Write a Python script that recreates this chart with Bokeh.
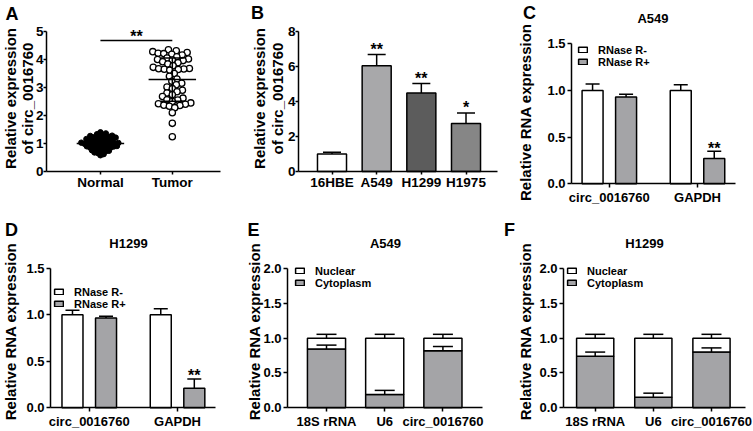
import numpy as np
from bokeh.plotting import figure
from bokeh.models import (Range1d, FixedTicker, PrintfTickFormatter, Label, Legend, LegendItem,
                          Whisker, TeeHead, ColumnDataSource)
from bokeh.layouts import column, row
from bokeh.embed import file_html
from bokeh.resources import INLINE
from bokeh.core.properties import value

FONT = "Liberation Sans"

# ---------------- data ----------------
# Panel A
groups_A = ["Normal", "Tumor"]
normal_expr = [1.40, 1.36, 1.33, 1.30, 1.28, 1.27, 1.25, 1.24, 1.22, 1.21, 1.20, 1.19, 1.18,
               1.16, 1.15, 1.14, 1.12, 1.10, 1.09, 1.08, 1.06, 1.05, 1.04, 1.03, 1.02, 1.01,
               1.00, 0.99, 0.98, 0.97, 0.96, 0.95, 0.94, 0.92, 0.91, 0.90, 0.89, 0.88, 0.86,
               0.85, 0.84, 0.82, 0.80, 0.78, 0.76, 0.74, 0.72, 0.70, 0.68, 0.66, 0.62, 0.58]
tumor_expr = [4.35, 4.31, 4.28, 4.25, 4.22, 4.21, 4.19, 4.16, 4.10, 4.05, 4.02, 4.00, 3.98,
              3.96, 3.92, 3.88, 3.84, 3.78, 3.72, 3.68, 3.67, 3.66, 3.65, 3.64, 3.62, 3.50,
              3.40, 3.30, 3.22, 3.15, 3.10, 3.02, 2.96, 2.90, 2.85, 2.80, 2.74, 2.68, 2.62,
              2.56, 2.55, 2.50, 2.45, 2.42, 2.40, 2.37, 2.36, 2.33, 2.28, 2.10, 1.72, 1.24]
sig_A = "**"

# Panel B
cells_B = ["16HBE", "A549", "H1299", "H1975"]
mean_B = [1.00, 6.05, 4.48, 2.75]
sd_B = [0.10, 0.63, 0.55, 0.60]
sig_B = ["", "**", "**", "*"]

# Panels C, D
genes_CD = ["circ_0016760", "GAPDH"]
rnase_series = ["RNase R-", "RNase R+"]
C_minus, C_minus_sd = [1.00, 1.00], [0.07, 0.06]
C_plus, C_plus_sd = [0.93, 0.27], [0.03, 0.08]
C_sig = ["", "**"]
D_minus, D_minus_sd = [1.00, 1.00], [0.05, 0.065]
D_plus, D_plus_sd = [0.965, 0.21], [0.02, 0.10]
D_sig = ["", "**"]

# Panels E, F
genes_EF = ["18S rRNA", "U6", "circ_0016760"]
fraction_series = ["Nuclear", "Cytoplasm"]
E_cyto, E_cyto_sd = [0.845, 0.19, 0.82], [0.055, 0.06, 0.06]
E_nuc, E_nuc_sd = [0.155, 0.81, 0.18], [0.055, 0.055, 0.055]
F_cyto, F_cyto_sd = [0.74, 0.15, 0.80], [0.06, 0.06, 0.06]
F_nuc, F_nuc_sd = [0.26, 0.85, 0.20], [0.055, 0.055, 0.055]

# ---------------- styles / layout ----------------
GRAY = "#a4a4a7"
B_COLORS = ["#ffffff", "#a8a8aa", "#5c5c5c", "#868686"]
LW = 1.5
COLS = [(0, 244), (244, 500), (500, 753)]
ROWS = [(0, 212), (212, 431)]
CANVAS = {}


def make_panel(name, col, rw, xdata, xpx, ydata, ypx):
    """Frame covers the whole canvas; axes are pinned at the data origin."""
    cx0, cx1 = COLS[col]
    cy0, cy1 = ROWS[rw]
    kx = (xpx[1] - xpx[0]) / (xdata[1] - xdata[0])
    ky = (ypx[0] - ypx[1]) / (ydata[1] - ydata[0])
    xs = xdata[0] - (xpx[0] - cx0) / kx
    xe = xdata[1] + (cx1 - xpx[1]) / kx
    ys = ydata[0] - (cy1 - ypx[0]) / ky
    ye = ydata[1] + (ypx[1] - cy0) / ky
    p = figure(width=cx1 - cx0, height=cy1 - cy0, x_range=Range1d(xs, xe),
               y_range=Range1d(ys, ye), min_border=0, title=None,
               output_backend="svg", toolbar_location=None, tools="")
    p.outline_line_color = None
    p.grid.visible = False
    p.background_fill_color = "white"
    p.border_fill_color = "white"
    p.xaxis.fixed_location = ydata[0]
    p.xaxis.bounds = tuple(xdata)
    p.yaxis.fixed_location = xdata[0]
    p.yaxis.bounds = tuple(ydata)
    CANVAS[name] = (cx0, cy1)
    return p


def style_axes(p, xlabels, yticks, yfmt, xsize, ysize, tick_out=4, standoff=2):
    for ax in list(p.xaxis) + list(p.yaxis):
        ax.axis_line_color = "black"
        ax.axis_line_width = LW
        ax.major_tick_line_color = "black"
        ax.major_tick_line_width = LW
        ax.major_tick_out = tick_out
        ax.major_tick_in = 0
        ax.minor_tick_line_color = None
        ax.major_label_text_font = FONT
        ax.major_label_text_font_style = "bold"
        ax.major_label_text_color = "black"
        ax.major_label_standoff = standoff
    xt = list(range(len(xlabels)))
    p.xaxis.ticker = FixedTicker(ticks=xt, minor_ticks=[])
    p.xaxis.major_label_overrides = {t: l for t, l in zip(xt, xlabels)}
    p.xaxis.major_label_text_font_size = xsize
    p.yaxis.ticker = FixedTicker(ticks=yticks, minor_ticks=[])
    if yfmt:
        p.yaxis.formatter = PrintfTickFormatter(format=yfmt)
    p.yaxis.major_label_text_font_size = ysize


def label(p, name, text, px, py, size, angle=0.0, align="center"):
    cx0, cy1 = CANVAS[name]
    p.add_layout(Label(x=px - cx0, y=cy1 - py, x_units="screen", y_units="screen", text=text,
                       angle=angle, text_font=FONT, text_font_style="bold",
                       text_font_size=size, text_align=align, text_baseline="middle",
                       text_color="black"))


def legend(p, name, items, box_left, row1_y, row_h=13):
    cx0, cy1 = CANVAS[name]
    n = len(items)
    vx = box_left - cx0
    vy = (cy1 - row1_y) + row_h / 2 - n * row_h
    leg = Legend(items=[LegendItem(label=l, renderers=[r]) for l, r in items],
                 location=(vx, vy), orientation="vertical", padding=0, margin=0, spacing=0,
                 glyph_width=11, glyph_height=7, label_standoff=10, label_height=12,
                 label_text_font=FONT, label_text_font_style="bold",
                 label_text_font_size="11px", label_text_color="black",
                 background_fill_alpha=0, border_line_alpha=0)
    p.add_layout(leg)


def whisker(p, x, lower, upper, cap):
    src = ColumnDataSource(dict(x=list(x), lower=list(lower), upper=list(upper)))
    p.add_layout(Whisker(source=src, base="x", lower="lower", upper="upper",
                         dimension="height", line_color="black", line_width=LW,
                         lower_head=None,
                         upper_head=TeeHead(size=cap, line_color="black", line_width=LW),
                         level="overlay"))


def stars(p, x, y, txt, size="16px", yoff=-4):
    p.text(x=list(x), y=list(y), text=list(txt), text_font=value(FONT),
           text_font_style="bold", text_font_size=size, text_align="center",
           text_baseline="middle", y_offset=yoff, text_color="black")


def swarm(vals, d_px, x_ppu, y_ppu):
    vals = np.asarray(vals, float)
    placed = []
    xs = np.zeros(len(vals))
    for i in np.argsort(vals):
        y = vals[i] * y_ppu
        cands = [0.0]
        for px, py in placed:
            dy = y - py
            if abs(dy) < d_px:
                dx = np.sqrt(d_px ** 2 - dy ** 2)
                cands += [px + dx, px - dx]
        cands.sort(key=abs)
        chosen = None
        for c in cands:
            if all((c - px) ** 2 + (y - py) ** 2 >= d_px ** 2 - 1e-6 for px, py in placed):
                chosen = c
                break
        if chosen is None:
            chosen = max(abs(c) for c in cands) + d_px
        xs[i] = chosen
        placed.append((chosen, y))
    return xs / x_ppu


# ---------------- Panel A ----------------
A_xd, A_xp, A_yd, A_yp = (-0.75, 1.67), (46, 220), (0, 5), (171, 31)
pA = make_panel("A", 0, 0, A_xd, A_xp, A_yd, A_yp)
style_axes(pA, groups_A, [0, 1, 2, 3, 4, 5], None, "13.5px", "13.5px", tick_out=3, standoff=0)
xppu = (A_xp[1] - A_xp[0]) / (A_xd[1] - A_xd[0])
yppu = (A_yp[0] - A_yp[1]) / (A_yd[1] - A_yd[0])
n_off = swarm(normal_expr, 3.4, xppu, yppu)
t_off = swarm(tumor_expr, 5.6, xppu, yppu)
pA.scatter(x=0 + n_off, y=normal_expr, size=5.5, fill_color="black", line_color="black")
pA.scatter(x=1 + t_off, y=tumor_expr, size=6.3, fill_color="white", line_color="black",
           line_width=1.3)
for gi, vals in enumerate([normal_expr, tumor_expr]):
    m, s = float(np.mean(vals)), float(np.std(vals, ddof=1))
    pA.segment(x0=[gi - 0.33, gi - 0.16, gi - 0.16, gi], y0=[m, m + s, m - s, m - s],
               x1=[gi + 0.33, gi + 0.16, gi + 0.16, gi], y1=[m, m + s, m - s, m + s],
               line_color="black", line_width=LW)
sig_y = 4.68
pA.segment(x0=[0], y0=[sig_y], x1=[1], y1=[sig_y], line_color="black", line_width=LW)
stars(pA, [0.5], [sig_y], [sig_A], yoff=-4)
label(pA, "A", "A", 11.5, 13, "18px")
label(pA, "A", "Relative expression", 10, 98, "15px", angle=np.pi / 2)
label(pA, "A", "of circ_0016760", 27, 98, "15px", angle=np.pi / 2)

# ---------------- Panel B ----------------
pB = make_panel("B", 1, 0, (-0.75, 3.705), (298, 497), (0, 8), (171, 31))
style_axes(pB, cells_B, [0, 2, 4, 6, 8], None, "13.5px", "13.5px", tick_out=3, standoff=0)
xB = np.arange(len(cells_B))
pB.vbar(x=xB, top=mean_B, bottom=0, width=0.65, fill_color=B_COLORS, line_color="black",
        line_width=LW)
whisker(pB, xB, mean_B, np.add(mean_B, sd_B), 18)
stars(pB, xB, np.add(mean_B, sd_B), sig_B, yoff=-5)
label(pB, "B", "B", 257, 12, "18px")
label(pB, "B", "Relative expression", 259, 98, "15px", angle=np.pi / 2)
label(pB, "B", "of circ_0016760", 276.5, 98, "15px", angle=np.pi / 2)

# ---------------- Panels C, D ----------------
DODGE, BW = 0.19, 0.238


def grouped(p, minus, minus_sd, plus, plus_sd, sig):
    gx = np.arange(len(genes_CD))
    r1 = p.vbar(x=gx - DODGE, top=minus, bottom=0, width=BW, fill_color="white",
                line_color="black", line_width=LW)
    r2 = p.vbar(x=gx + DODGE, top=plus, bottom=0, width=BW, fill_color=GRAY,
                line_color="black", line_width=LW)
    whisker(p, gx - DODGE, minus, np.add(minus, minus_sd), 14)
    whisker(p, gx + DODGE, plus, np.add(plus, plus_sd), 14)
    stars(p, gx + DODGE, np.add(plus, plus_sd), sig, yoff=-3)
    return r1, r2


pC = make_panel("C", 2, 0, (-0.429, 1.431), (571, 735), (0, 1.5), (183.3, 43.3))
style_axes(pC, genes_CD, [0, 0.5, 1.0, 1.5], "%.1f", "13px", "13px")
c1, c2 = grouped(pC, C_minus, C_minus_sd, C_plus, C_plus_sd, C_sig)
legend(pC, "C", [(rnase_series[0], c1), (rnase_series[1], c2)], 577, 48.3)
label(pC, "C", "C", 529, 12, "18px")
label(pC, "C", "A549", 652.5, 18, "13px")
label(pC, "C", "Relative RNA expression", 525, 111.7, "15px", angle=np.pi / 2)

pD = make_panel("D", 0, 1, (-0.439, 1.43), (50, 215), (0, 1.5), (407.3, 267.8))
style_axes(pD, genes_CD, [0, 0.5, 1.0, 1.5], "%.1f", "13px", "13px")
d1, d2 = grouped(pD, D_minus, D_minus_sd, D_plus, D_plus_sd, D_sig)
legend(pD, "D", [(rnase_series[0], d1), (rnase_series[1], d2)], 53, 290)
label(pD, "D", "D", 11, 229, "18px")
label(pD, "D", "H1299", 128, 243, "13px")
label(pD, "D", "Relative RNA expression", 10, 331, "15px", angle=np.pi / 2)

# ---------------- Panels E, F ----------------


def stacked(p, cyto, cyto_sd, nuc, nuc_sd, width):
    gx = np.arange(len(genes_EF))
    src = ColumnDataSource(dict(x=gx, cyto=cyto, nuc=nuc))
    rs = p.vbar_stack(["cyto", "nuc"], x="x", width=width, source=src,
                      fill_color=[GRAY, "white"], line_color="black", line_width=LW)
    whisker(p, gx, cyto, np.add(cyto, cyto_sd), 20)
    tot = np.add(cyto, nuc)
    whisker(p, gx, tot, tot + np.asarray(nuc_sd), 20)
    return rs


pE = make_panel("E", 1, 1, (-0.67, 2.68), (287, 482), (0, 2), (407.3, 268))
style_axes(pE, genes_EF, [0, 0.5, 1.0, 1.5, 2.0], "%.1f", "13px", "13px")
rsE = stacked(pE, E_cyto, E_cyto_sd, E_nuc, E_nuc_sd, 0.655)
legend(pE, "E", [(fraction_series[0], rsE[1]), (fraction_series[1], rsE[0])], 294, 269.3)
label(pE, "E", "E", 253, 229, "18px")
label(pE, "E", "A549", 385, 243, "13px")
label(pE, "E", "Relative RNA expression", 254, 331, "15px", angle=np.pi / 2)

pF = make_panel("F", 2, 1, (-0.545, 2.585), (563, 745), (0, 2), (407.3, 268))
style_axes(pF, genes_EF, [0, 0.5, 1.0, 1.5, 2.0], "%.1f", "13px", "13px")
rsF = stacked(pF, F_cyto, F_cyto_sd, F_nuc, F_nuc_sd, 0.64)
legend(pF, "F", [(fraction_series[0], rsF[1]), (fraction_series[1], rsF[0])], 566, 269.3)
label(pF, "F", "F", 509, 229, "18px")
label(pF, "F", "H1299", 644, 243, "13px")
label(pF, "F", "Relative RNA expression", 525, 331, "15px", angle=np.pi / 2)

layout = column(row(pA, pB, pC), row(pD, pE, pF))
open("out.html", "w").write(file_html(layout, INLINE))
